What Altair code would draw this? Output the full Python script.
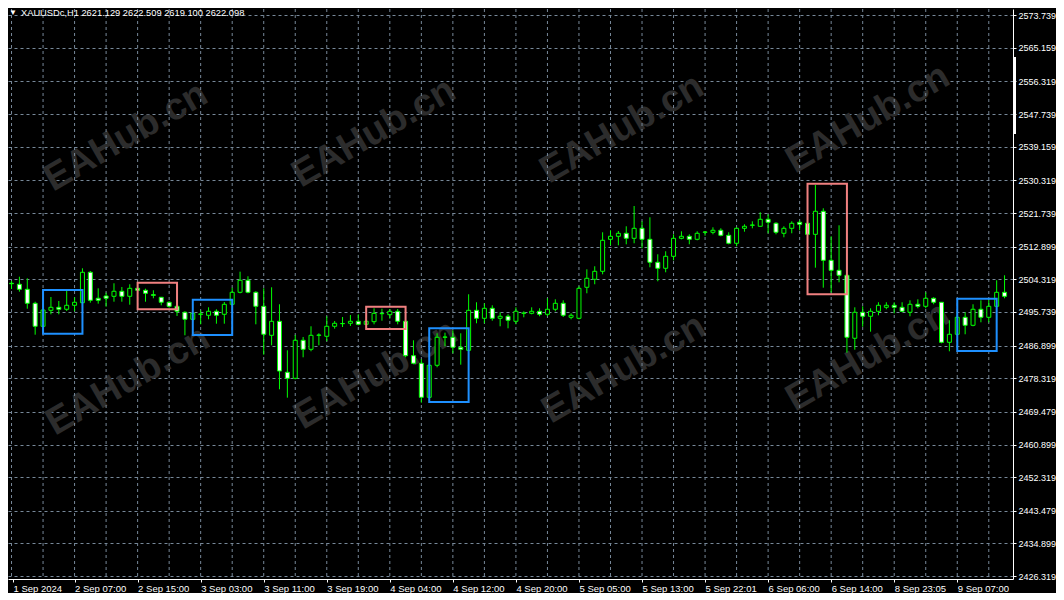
import altair as alt
import pandas as pd

# ---------------- data ----------------
opens = [2503.27, 2503.01, 2501.69, 2498.01, 2491.97, 2496.17, 2496.96, 2496.44, 2497.49, 2498.17,
         2506.16, 2499.33, 2499.93, 2499.85, 2501.17, 2499.85, 2501.95, 2501.43, 2500.27, 2499.59,
         2498.28, 2497.22, 2495.65, 2493.81, 2495.12, 2494.86, 2495.91, 2495.12, 2497.75, 2500.90,
         2504.06, 2500.90, 2497.22, 2489.60, 2493.28, 2479.88, 2478.30, 2488.29, 2485.92, 2489.60,
         2489.34, 2491.97, 2492.65, 2492.76, 2493.28, 2492.49, 2493.18, 2495.28, 2495.02, 2495.91,
         2493.28, 2484.24, 2482.25, 2473.31, 2481.72, 2489.08, 2489.08, 2486.45, 2485.66, 2496.17,
         2494.07, 2496.70, 2494.07, 2494.60, 2493.28, 2495.38, 2495.38, 2495.91, 2495.12, 2496.44,
         2498.01, 2494.33, 2494.07, 2502.22, 2504.32, 2506.42, 2514.83, 2515.62, 2516.41, 2515.09,
         2517.72, 2514.83, 2508.79, 2507.21, 2510.36, 2515.09, 2515.62, 2514.83, 2516.67, 2516.67,
         2517.20, 2515.88, 2513.78, 2517.72, 2518.51, 2518.25, 2520.09, 2519.04, 2516.41, 2517.72,
         2519.30, 2519.04, 2516.14, 2522.19, 2509.31, 2506.68, 2505.37, 2488.82, 2495.65, 2494.60,
         2495.91, 2496.96, 2497.49, 2496.96, 2495.65, 2497.75, 2497.22, 2499.33, 2498.28, 2487.76,
         2489.87, 2494.33, 2492.23, 2496.44, 2494.33, 2497.22, 2500.90]
highs = [2503.87, 2505.00, 2504.58, 2498.43, 2496.51, 2499.67, 2498.62, 2501.24, 2499.59, 2507.21,
         2506.50, 2501.95, 2500.80, 2503.27, 2502.30, 2503.01, 2502.11, 2501.85, 2501.43, 2499.67,
         2498.54, 2497.30, 2495.91, 2495.65, 2496.17, 2496.96, 2496.44, 2498.35, 2502.11, 2506.32,
         2505.11, 2501.17, 2501.95, 2502.22, 2497.75, 2485.66, 2489.68, 2489.16, 2491.97, 2490.13,
         2494.60, 2493.36, 2494.41, 2494.94, 2495.12, 2493.89, 2496.70, 2496.59, 2496.51, 2496.51,
         2493.55, 2488.29, 2483.30, 2481.98, 2490.13, 2490.29, 2490.92, 2490.13, 2500.38, 2498.28,
         2498.01, 2497.49, 2495.65, 2495.12, 2496.96, 2495.91, 2496.96, 2496.70, 2499.33, 2499.06,
         2498.80, 2495.38, 2502.48, 2506.95, 2507.74, 2516.67, 2517.20, 2517.01, 2518.25, 2523.58,
         2519.56, 2520.61, 2510.89, 2511.68, 2516.14, 2516.93, 2516.14, 2516.93, 2516.93, 2517.98,
         2517.72, 2516.67, 2517.98, 2518.77, 2519.56, 2521.93, 2521.40, 2519.30, 2518.25, 2519.56,
         2519.82, 2519.30, 2529.10, 2522.98, 2515.62, 2518.51, 2505.37, 2496.96, 2497.22, 2496.70,
         2498.28, 2498.28, 2498.28, 2498.28, 2498.80, 2499.06, 2500.90, 2499.59, 2498.28, 2493.55,
         2495.65, 2495.65, 2497.75, 2498.80, 2499.06, 2504.06, 2505.37]
lows = [2501.77, 2501.06, 2496.59, 2489.76, 2491.78, 2495.12, 2495.12, 2495.99, 2495.91, 2496.86,
        2498.17, 2497.91, 2497.12, 2498.43, 2498.43, 2497.64, 2501.17, 2498.43, 2499.33, 2497.49,
        2496.86, 2494.68, 2489.60, 2493.28, 2492.49, 2493.81, 2492.65, 2492.65, 2496.44, 2500.64,
        2500.64, 2492.49, 2484.51, 2486.98, 2475.41, 2473.21, 2478.04, 2483.82, 2485.40, 2486.98,
        2488.03, 2491.34, 2491.78, 2492.05, 2492.23, 2492.23, 2492.49, 2493.44, 2493.97, 2492.49,
        2483.82, 2481.98, 2471.89, 2473.05, 2481.19, 2486.71, 2484.87, 2481.88, 2485.40, 2492.76,
        2492.76, 2493.44, 2491.97, 2491.44, 2492.49, 2494.33, 2495.12, 2494.60, 2494.60, 2495.91,
        2494.41, 2493.81, 2493.81, 2500.64, 2503.01, 2505.63, 2513.25, 2513.25, 2513.52, 2513.78,
        2512.47, 2507.47, 2503.79, 2506.16, 2509.31, 2514.83, 2513.52, 2514.57, 2515.78, 2516.14,
        2515.62, 2513.52, 2512.99, 2516.83, 2517.72, 2518.25, 2516.41, 2516.14, 2515.36, 2516.41,
        2517.20, 2515.88, 2507.37, 2502.11, 2500.80, 2503.53, 2485.03, 2485.82, 2491.86, 2490.55,
        2494.86, 2496.44, 2495.38, 2495.65, 2494.60, 2496.70, 2496.70, 2497.75, 2487.50, 2485.40,
        2489.87, 2489.87, 2491.97, 2493.02, 2493.02, 2496.96, 2499.33]
closes = [2503.16, 2501.69, 2498.01, 2491.97, 2496.25, 2496.96, 2496.44, 2497.49, 2498.28, 2506.16,
          2498.80, 2498.80, 2499.33, 2501.17, 2499.85, 2501.95, 2501.43, 2500.64, 2500.11, 2498.28,
          2497.22, 2495.91, 2493.81, 2495.38, 2495.20, 2495.91, 2494.86, 2497.75, 2500.90, 2504.06,
          2500.90, 2497.22, 2489.87, 2493.28, 2480.22, 2478.30, 2488.29, 2485.92, 2489.60, 2489.68,
          2491.97, 2492.76, 2492.70, 2493.28, 2492.49, 2493.28, 2495.38, 2495.33, 2495.91, 2493.28,
          2484.24, 2482.25, 2473.31, 2481.72, 2489.08, 2489.16, 2486.45, 2485.92, 2496.17, 2494.07,
          2496.70, 2494.07, 2494.60, 2493.55, 2495.91, 2495.46, 2495.91, 2495.12, 2496.44, 2498.01,
          2494.86, 2494.86, 2501.95, 2504.58, 2506.42, 2514.57, 2515.62, 2516.41, 2515.09, 2517.72,
          2514.83, 2508.79, 2507.21, 2510.36, 2515.09, 2515.62, 2514.83, 2516.41, 2516.75, 2517.20,
          2515.88, 2513.78, 2517.72, 2518.25, 2518.59, 2520.09, 2519.30, 2516.67, 2517.72, 2519.04,
          2518.77, 2516.14, 2522.19, 2509.31, 2506.68, 2505.37, 2489.08, 2495.65, 2494.60, 2495.91,
          2497.49, 2497.49, 2496.96, 2495.91, 2497.75, 2497.22, 2499.33, 2498.28, 2487.76, 2489.87,
          2494.33, 2492.23, 2496.44, 2494.33, 2497.22, 2500.90, 2499.85]

x_tick_bars = [0, 8, 16, 24, 32, 40, 48, 56, 64, 72, 80, 88, 96, 104, 112, 120]
x_tick_labels = ["1 Sep 2024", "2 Sep 07:00", "2 Sep 15:00", "3 Sep 03:00", "3 Sep 11:00",
                 "3 Sep 19:00", "4 Sep 04:00", "4 Sep 12:00", "4 Sep 20:00", "5 Sep 05:00",
                 "5 Sep 13:00", "5 Sep 22:01", "6 Sep 06:00", "6 Sep 14:00", "8 Sep 23:05",
                 "9 Sep 07:00"]
y_ticks = [2573.739, 2565.159, 2556.319, 2547.739, 2539.159, 2530.319, 2521.739, 2512.899,
           2504.319, 2495.739, 2486.899, 2478.319, 2469.479, 2460.899, 2452.319, 2443.479,
           2434.899, 2426.319]
grid_bars = list(range(0, 127, 4))

box_start = [4, 23, 53, 120, 16, 45, 101]
box_end = [9, 28, 58, 125, 21, 50, 106]
box_top = [2501.51, 2498.96, 2491.44, 2499.22, 2503.43, 2497.12, 2529.44]
box_bottom = [2490.02, 2489.68, 2472.08, 2485.48, 2496.44, 2491.26, 2500.38]
box_kind = ["blue", "blue", "blue", "blue", "red", "red", "red"]

title_text = "XAUUSDc,H1  2621.129 2622.509 2619.100 2622.098"
watermark = "EAHub.cn"

# ---------------- chart ----------------
W, H = 1005, 570
X_MIN, X_MAX = 0.1875, 126.4375
Y_MIN, Y_MAX = 2425.56, 2575.35
GREEN = "#00ff00"
GRID = "#778899"
FONT = "Liberation Sans"

df = pd.DataFrame({"i": list(range(len(opens))), "o": opens, "h": highs, "l": lows, "c": closes})
df["fill"] = ["#ffffff" if c < o else "#000000" for o, c in zip(opens, closes)]

boxes = pd.DataFrame({"s": box_start, "e": box_end, "t": box_top, "b": box_bottom, "k": box_kind})
grid_df = pd.DataFrame({"g": grid_bars})

xscale = alt.Scale(domain=[X_MIN, X_MAX], nice=False, zero=False)
yscale = alt.Scale(domain=[Y_MIN, Y_MAX], nice=False, zero=False)

labels_js = "[" + ",".join("'" + s + "'" for s in x_tick_labels) + "]"
xaxis = alt.Axis(
    values=[max(v, X_MIN) for v in x_tick_bars],
    labelExpr=labels_js + "[round(datum.value / 8)]",
    grid=False, domainColor="#ffffff", domainWidth=1, tickColor="#ffffff", tickSize=3,
    labelColor="#ffffff", labelFont=FONT, labelFontSize=9.5, labelAlign="left",
    labelBaseline="top", labelPadding=1, labelOverlap=False, labelFlush=False, title=None,
)
yaxis = alt.Axis(
    orient="right", values=y_ticks, format=".3f", grid=True, gridColor=GRID,
    gridDash=[3, 3], gridWidth=1, domainColor="#ffffff", domainWidth=1,
    tickColor="#ffffff", tickSize=3, labelColor="#ffffff", labelFont=FONT,
    labelFontSize=9, labelPadding=2, labelAlign="left", labelBaseline="middle",
    labelOverlap=False, labelFlush=False, title=None,
)

def X(field):
    return alt.X(field, type="quantitative", scale=xscale, axis=xaxis)

def Y(field):
    return alt.Y(field, type="quantitative", scale=yscale, axis=yaxis)

# watermark (decorative overlay)
wm_layers = []
for px, py in [(118, 128), (366, 124), (614, 120), (860, 110),
               (120, 372), (368, 366), (616, 360), (860, 348)]:
    wm_layers.append(
        alt.Chart(pd.DataFrame({"t": [watermark]})).mark_text(
            font=FONT, fontSize=38, fontWeight="bold", color="#2c2c2c", angle=330,
            align="center", baseline="middle", clip=True,
        ).encode(text="t:N", x=alt.value(px), y=alt.value(py))
    )

vgrid = alt.Chart(grid_df).mark_rule(color=GRID, strokeWidth=1, strokeDash=[3, 3], clip=True).encode(
    x=X("g")
)

wicks = alt.Chart(df).mark_rule(color=GREEN, strokeWidth=1, clip=True).encode(
    x=X("i"), y=Y("l"), y2="h"
)

bodies = alt.Chart(df).mark_bar(size=4, stroke=GREEN, strokeWidth=1, clip=True).encode(
    x=X("i"), y=Y("o"), y2="c", color=alt.Color("fill:N", scale=None)
)

rects = alt.Chart(boxes).mark_rect(filled=False, strokeWidth=2, clip=True).encode(
    x=X("s"), x2="e", y=Y("t"), y2="b",
    stroke=alt.Stroke("k:N", scale=alt.Scale(domain=["blue", "red"], range=["#1e90ff", "#f08080"]), legend=None),
)

tri = alt.Chart(pd.DataFrame({"t": ["\u25bc"]})).mark_text(
    font=FONT, fontSize=8, color="#ffffff", align="left", baseline="middle"
).encode(text="t:N", x=alt.value(1), y=alt.value(3.5))

title = alt.Chart(pd.DataFrame({"t": [title_text]})).mark_text(
    font=FONT, fontSize=9.3, color="#ffffff", align="left", baseline="middle"
).encode(text="t:N", x=alt.value(13), y=alt.value(3.5))

scrollbar = alt.Chart(pd.DataFrame({"a": [0]})).mark_rule(color="#ffffff", strokeWidth=3).encode(
    x=alt.value(W + 1.5), y=alt.value(48), y2=alt.value(125)
)

chart = alt.layer(*wm_layers, vgrid, wicks, bodies, rects, tri, title, scrollbar).properties(
    width=W, height=H, background="#000000", padding=0
).configure_view(stroke=None)

chart.save("out.html", embed_options={"renderer": "svg", "actions": False})
